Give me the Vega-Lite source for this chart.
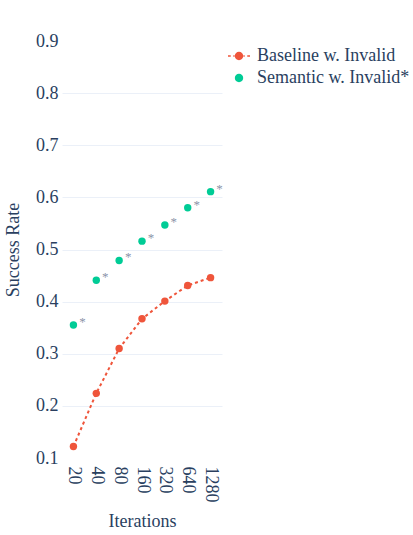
{
  "$schema": "https://vega.github.io/schema/vega-lite/v6.json",
  "width": 160,
  "height": 417,
  "autosize": {"type": "none"},
  "padding": {"left": 62, "top": 41, "right": 191, "bottom": 77},
  "background": "white",
  "config": {
    "font": "Liberation Serif",
    "view": {"stroke": null},
    "axis": {
      "labelFont": "Liberation Serif",
      "titleFont": "Liberation Serif",
      "labelFontSize": 18,
      "titleFontSize": 18,
      "labelColor": "#2a3f5f",
      "titleColor": "#2a3f5f",
      "titleFontWeight": "normal",
      "ticks": false,
      "domain": false,
      "gridColor": "#EBF0F8",
      "gridWidth": 1
    },
    "legend": {
      "labelFont": "Liberation Serif"
    }
  },
  "data": {
    "values": [
      {"iter": "20", "rate": 0.122, "series": "Baseline w. Invalid", "star": ""},
      {"iter": "40", "rate": 0.224, "series": "Baseline w. Invalid", "star": ""},
      {"iter": "80", "rate": 0.310, "series": "Baseline w. Invalid", "star": ""},
      {"iter": "160", "rate": 0.367, "series": "Baseline w. Invalid", "star": ""},
      {"iter": "320", "rate": 0.401, "series": "Baseline w. Invalid", "star": ""},
      {"iter": "640", "rate": 0.431, "series": "Baseline w. Invalid", "star": ""},
      {"iter": "1280", "rate": 0.446, "series": "Baseline w. Invalid", "star": ""},
      {"iter": "20", "rate": 0.355, "series": "Semantic w. Invalid*", "star": "*"},
      {"iter": "40", "rate": 0.441, "series": "Semantic w. Invalid*", "star": "*"},
      {"iter": "80", "rate": 0.479, "series": "Semantic w. Invalid*", "star": "*"},
      {"iter": "160", "rate": 0.516, "series": "Semantic w. Invalid*", "star": "*"},
      {"iter": "320", "rate": 0.547, "series": "Semantic w. Invalid*", "star": "*"},
      {"iter": "640", "rate": 0.580, "series": "Semantic w. Invalid*", "star": "*"},
      {"iter": "1280", "rate": 0.611, "series": "Semantic w. Invalid*", "star": "*"}
    ]
  },
  "encoding": {
    "x": {
      "field": "iter",
      "type": "ordinal",
      "sort": ["20", "40", "80", "160", "320", "640", "1280"],
      "scale": {"type": "point", "padding": 0.5},
      "axis": {
        "title": "Iterations",
        "labelAngle": 90,
        "labelAlign": "left",
        "labelBaseline": "middle",
        "labelPadding": 8,
        "titlePadding": 10
      }
    },
    "y": {
      "field": "rate",
      "type": "quantitative",
      "scale": {"domain": [0.1, 0.9], "nice": false, "zero": false},
      "axis": {
        "title": "Success Rate",
        "values": [0.1, 0.2, 0.3, 0.4, 0.5, 0.6, 0.7, 0.8, 0.9],
        "format": ".1f",
        "labelPadding": 4,
        "titlePadding": 13,
        "gridOpacity": {"condition": {"test": "datum.value < 0.15 || datum.value > 0.85", "value": 0}, "value": 1}
      }
    }
  },
  "layer": [
    {
      "transform": [{"filter": "datum.series === 'Baseline w. Invalid'"}],
      "mark": {"type": "line", "strokeDash": [3, 3], "strokeWidth": 2, "color": "#EF553B"},
      "encoding": {}
    },
    {
      "mark": {"type": "point", "filled": true, "size": 55, "opacity": 1},
      "encoding": {
        "color": {
          "field": "series",
          "type": "nominal",
          "scale": {
            "domain": ["Baseline w. Invalid", "Semantic w. Invalid*"],
            "range": ["#EF553B", "#00CC96"]
          },
          "legend": {
            "title": null,
            "orient": "none",
            "legendX": 165,
            "legendY": 3,
            "labelFontSize": 18,
            "labelColor": "#2a3f5f",
            "symbolSize": 484,
            "symbolOpacity": 1,
            "rowPadding": 1,
            "labelOffset": 6
          }
        }
      }
    },
    {
      "transform": [{"filter": "datum.star === 'never'"}],
      "mark": {"type": "point", "filled": true, "opacity": 1},
      "encoding": {
        "color": {
          "field": "series",
          "type": "nominal",
          "scale": {
            "domain": ["Baseline w. Invalid", "Semantic w. Invalid*"],
            "range": ["#EF553B", "#00CC96"]
          },
          "legend": {
            "title": null,
            "orient": "none",
            "legendX": 165,
            "legendY": 3,
            "labelFontSize": 18,
            "labelColor": "#2a3f5f",
            "symbolSize": 484,
            "symbolOpacity": 1,
            "rowPadding": 1,
            "labelOffset": 6
          }
        },
        "shape": {
          "field": "series",
          "type": "nominal",
          "scale": {
            "domain": ["Baseline w. Invalid", "Semantic w. Invalid*"],
            "range": [
              "M-1,-0.07H-0.75V0.07H-1ZM-0.52,-0.07H-0.4V0.07H-0.52ZM0.4,-0.07H0.52V0.07H0.4ZM0.75,-0.07H1V0.07H0.75ZM0.38,0C0.38,0.21 0.21,0.38 0,0.38C-0.21,0.38 -0.38,0.21 -0.38,0C-0.38,-0.21 -0.21,-0.38 0,-0.38C0.21,-0.38 0.38,-0.21 0.38,0Z",
              "M0.38,0C0.38,0.21 0.21,0.38 0,0.38C-0.21,0.38 -0.38,0.21 -0.38,0C-0.38,-0.21 -0.21,-0.38 0,-0.38C0.21,-0.38 0.38,-0.21 0.38,0Z"
            ]
          },
          "legend": {
            "title": null,
            "orient": "none",
            "legendX": 165,
            "legendY": 3,
            "labelFontSize": 18,
            "labelColor": "#2a3f5f",
            "symbolSize": 484,
            "symbolOpacity": 1,
            "rowPadding": 1,
            "labelOffset": 6
          }
        }
      }
    },
    {
      "transform": [{"filter": "datum.star !== ''"}],
      "mark": {"type": "text", "dx": 9, "dy": -3, "color": "#8a93a8", "fontSize": 13},
      "encoding": {"text": {"field": "star"}}
    }
  ]
}
